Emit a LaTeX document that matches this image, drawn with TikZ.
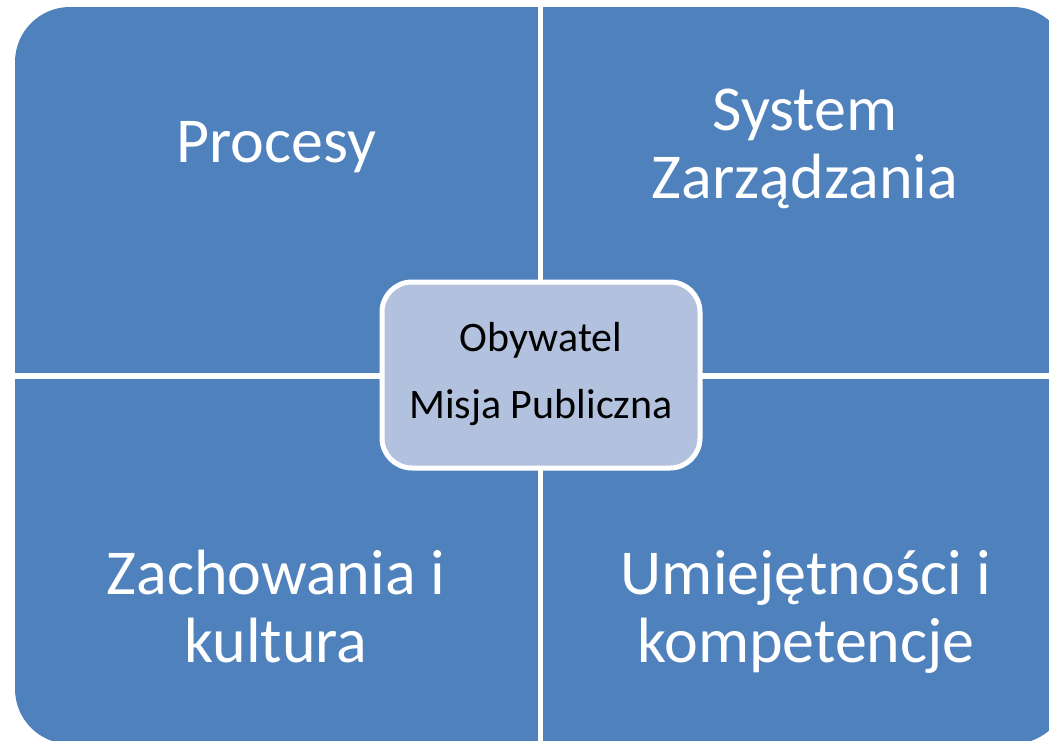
\documentclass[tikz,border=0pt]{standalone}
\usepackage{fontspec}
\setmainfont{Carlito}
\usepackage{tikz}
\usetikzlibrary{positioning}
\usepackage{xcolor}
\definecolor{qblue}{RGB}{79,129,189}
\definecolor{qlight}{RGB}{178,193,221}
\tikzstyle{quadrant} = [rectangle, inner sep=0pt, fill=qblue, draw=none, anchor=north west]
\tikzstyle{qlabel} = [text=white, align=center, inner sep=0pt, font=\fontsize{64}{68}\selectfont]
\tikzstyle{core} = [rectangle, rounded corners=30pt, minimum width=318pt, minimum height=186pt, draw=white, line width=5pt, fill=qlight, align=center, font=\fontsize{42}{67}\selectfont]

\begin{document}
\begin{tikzpicture}[x=1pt,y=-1pt]
\useasboundingbox (0,0) rectangle (1049,741);

% Four quadrants
\begin{scope}
\clip[rounded corners=55pt] (15,7) rectangle (1068,744);
\node (tl) [quadrant, minimum width=523pt, minimum height=366pt] at (15,7) {};
\node (tr) [quadrant, minimum width=525pt, minimum height=366pt] at (543,7) {};
\node (bl) [quadrant, minimum width=523pt, minimum height=365pt] at (15,379) {};
\node (br) [quadrant, minimum width=525pt, minimum height=365pt] at (543,379) {};
\end{scope}

% Quadrant labels (base = last line)
\node (procesy) [qlabel, anchor=base] at (276,162) {Procesy};
\node (system) [qlabel, anchor=base] at (805,198) {System\\Zarządzania};
\node (kultura) [qlabel, anchor=base] at (276,662) {Zachowania i\\kultura};
\node (kompet) [qlabel, anchor=base] at (806,662) {Umiejętności i\\kompetencje};

% Centre
\node (obywatel) [core, text depth=10pt] at (541,375) {Obywatel\\Misja Publiczna};
\end{tikzpicture}
\end{document}
